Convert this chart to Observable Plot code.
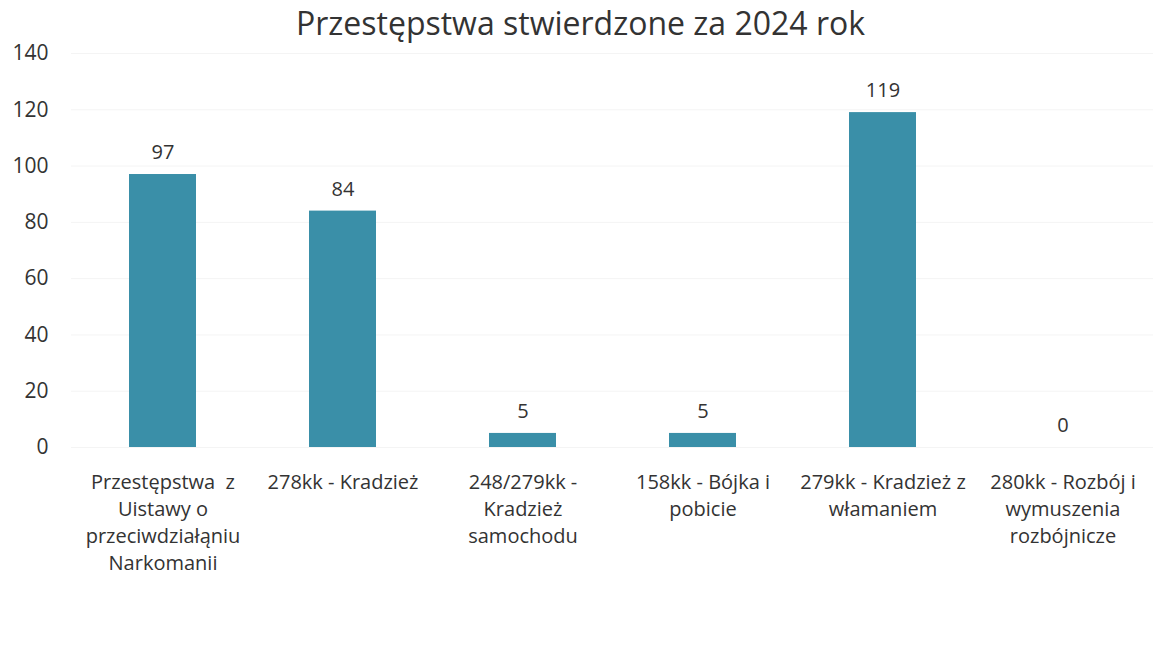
<!DOCTYPE html>
<html>
<head>
<meta charset="utf-8">
<script src="https://cdn.jsdelivr.net/npm/d3@7"></script>
<script src="https://cdn.jsdelivr.net/npm/@observablehq/plot@0.6"></script>
<style>
  html, body { margin: 0; padding: 0; background: #fff; }
  #chart svg { display: block; }
</style>
</head>
<body>
<div id="chart"></div>
<script>
const title = "Przestępstwa stwierdzone za 2024 rok";
const categories = [
  "Przestępstwa  z\nUistawy o\nprzeciwdziałąniu\nNarkomanii",
  "278kk - Kradzież",
  "248/279kk -\nKradzież\nsamochodu",
  "158kk - Bójka i\npobicie",
  "279kk - Kradzież z\nwłamaniem",
  "280kk - Rozbój i\nwymuszenia\nrozbójnicze"
];
const values = [97, 84, 5, 5, 119, 0];
const yTicks = [0, 20, 40, 60, 80, 100, 120, 140];

const data = categories.map((c, i) => ({category: c, value: values[i]}));

const chart = Plot.plot({
  width: 1155,
  height: 649,
  marginLeft: 71,
  marginRight: 2,
  marginTop: 53,
  marginBottom: 202,
  style: {fontFamily: "Open Sans, sans-serif", color: "#333", background: "#fff"},
  x: {domain: categories, paddingInner: 0.63, paddingOuter: 0.315, label: null},
  y: {domain: [0, 140], ticks: yTicks, label: null},
  marks: [
    Plot.gridY(yTicks, {stroke: "#f4f4f4", strokeOpacity: 1}),
    Plot.barY(data, {x: "category", y: "value", fill: "#3A8FA8"}),
    Plot.text(data, {x: "category", y: "value", text: d => String(d.value), dy: -22, fontSize: 20, fill: "#333"}),
    Plot.axisY({ticks: yTicks, tickSize: 0, tickPadding: 23, fontSize: 21, label: null}),
    Plot.axisX({tickSize: 0, tickPadding: 22, fontSize: 20, lineHeight: 1.35, label: null}),
    Plot.text([title], {frameAnchor: "top", dx: -32, dy: -41, fontSize: 32, fill: "#333"})
  ]
});
document.getElementById("chart").appendChild(chart);
</script>
</body>
</html>
